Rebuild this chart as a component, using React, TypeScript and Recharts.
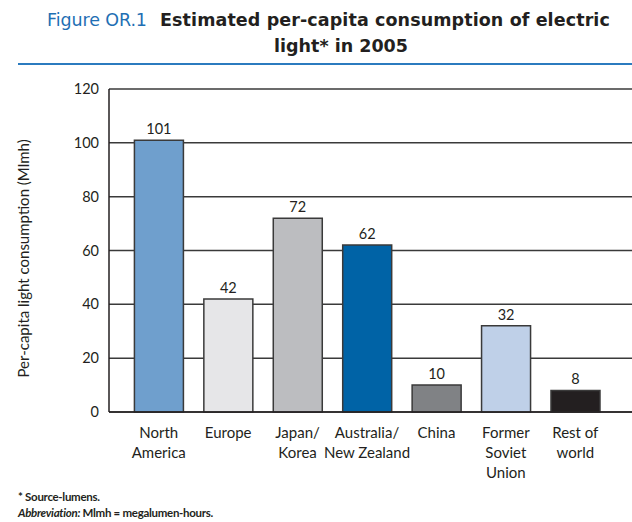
import React from 'react';
import { BarChart, Bar, XAxis, YAxis, CartesianGrid, Cell, LabelList } from 'recharts';

const categories = ['North America', 'Europe', 'Japan/ Korea', 'Australia/ New Zealand', 'China', 'Former Soviet Union', 'Rest of world'];
const categoryLines: string[][] = [
  ['North', 'America'],
  ['Europe'],
  ['Japan/', 'Korea'],
  ['Australia/', 'New Zealand'],
  ['China'],
  ['Former', 'Soviet', 'Union'],
  ['Rest of', 'world'],
];
const values = [101, 42, 72, 62, 10, 32, 8];
const colors = ['#6f9fcd', '#e6e6e8', '#bcbdc0', '#0063a6', '#808285', '#bfd0e8', '#231f20'];
const yTicks = [0, 20, 40, 60, 80, 100, 120];

const data = categories.map((c, i) => ({ name: c, idx: i, value: values[i] }));

const FONT = 'Lato, "Open Sans", sans-serif';
const TFONT = '"DejaVu Sans", sans-serif';

const XTick = (props: any) => {
  const { x, y, payload } = props;
  const lines = categoryLines[payload.index] || [String(payload.value)];
  return (
    <g transform={`translate(${x},${y})`}>
      {lines.map((l, i) => (
        <text key={i} x={0} y={18 + i * 20} textAnchor="middle" fill="#231f20" fontSize={15} fontFamily={FONT}>
          {l}
        </text>
      ))}
    </g>
  );
};

export default function App() {
  return (
    <div style={{ position: 'absolute', left: 0, top: 0, width: 632, height: 522, background: '#fff', fontFamily: FONT }}>
      <div style={{ position: 'absolute', left: 0, top: 10, width: 632, whiteSpace: 'nowrap', fontFamily: TFONT }}>
        <div style={{ position: 'absolute', left: 47, top: 0, fontSize: 17.5, color: '#1f6fb4', letterSpacing: -0.1 }}>Figure OR.1</div>
        <div style={{ position: 'absolute', left: 160, top: 0, fontSize: 17.5, fontWeight: 700, color: '#231f20', letterSpacing: 0.1 }}>
          Estimated per-capita consumption of electric
        </div>
        <div style={{ position: 'absolute', left: 0, top: 26, width: 682, textAlign: 'center', fontSize: 17.5, fontWeight: 700, color: '#231f20' }}>
          light* in 2005
        </div>
      </div>
      <div style={{ position: 'absolute', left: 18, top: 63, width: 614, height: 2, background: '#2b7bbf' }} />
      <div style={{ position: 'absolute', left: 0, top: 0 }}>
        <BarChart width={632} height={522} data={data} margin={{ top: 89, right: 0, bottom: 0, left: 69 }} barCategoryGap="15%">
          <CartesianGrid vertical={false} stroke="#3a3a3a" strokeWidth={1.5} />
          <XAxis
            dataKey="name"
            interval={0}
            tick={<XTick />}
            tickLine={false}
            axisLine={{ stroke: '#231f20', strokeWidth: 1.5 }}
            padding={{ left: 15, right: 22 }}
            height={110}
          />
          <YAxis
            domain={[0, 120]}
            ticks={yTicks}
            width={40}
            tickLine={false}
            tickSize={0}
            tickMargin={10}
            axisLine={{ stroke: '#231f20', strokeWidth: 1.5 }}
            tick={{ fill: '#231f20', fontSize: 14.5, fontFamily: FONT }}
            label={{
              value: 'Per-capita light consumption (Mlmh)',
              angle: -90,
              position: 'insideLeft',
              dx: -50,
              dy: 127,
              style: { fill: '#231f20', fontSize: 15, fontFamily: FONT },
            }}
          />
          <Bar dataKey="value" isAnimationActive={false} stroke="#3a3a3a" strokeWidth={1.5}>
            {data.map((d, i) => (
              <Cell key={i} fill={colors[i]} />
            ))}
            <LabelList dataKey="value" position="top" offset={6} fill="#231f20" fontSize={14.5} fontFamily={FONT} />
          </Bar>
        </BarChart>
      </div>
      <div style={{ position: 'absolute', left: 18, top: 489, fontSize: 11.5, color: '#231f20', lineHeight: '16px', fontWeight: 700, letterSpacing: -0.3 }}>
        <div>* Source-lumens.</div>
        <div><i>Abbreviation:</i> Mlmh = megalumen-hours.</div>
      </div>
    </div>
  );
}
